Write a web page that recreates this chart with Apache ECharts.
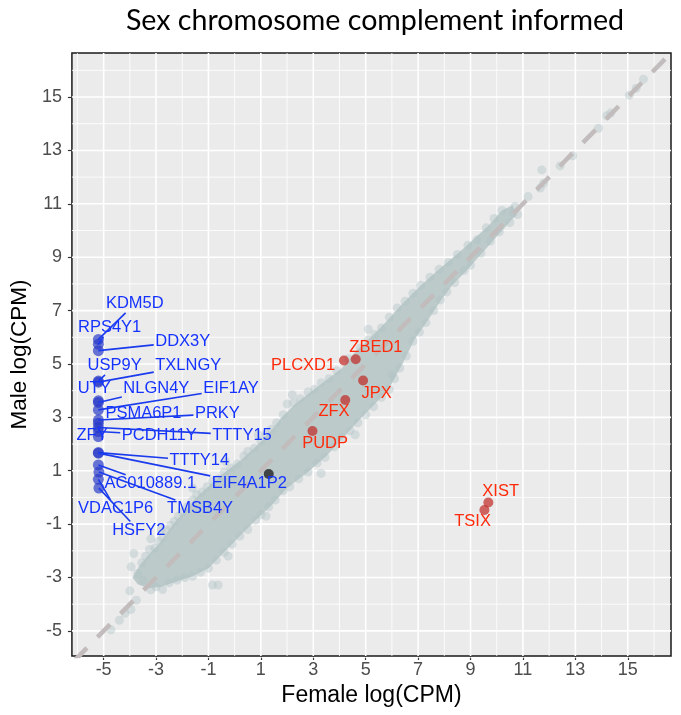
<!DOCTYPE html>
<html>
<head>
<meta charset="utf-8">
<script src="https://cdn.jsdelivr.net/npm/echarts@6/dist/echarts.min.js"></script>
<style>
  html, body { margin: 0; padding: 0; background: #fff; }
  #chart { width: 681px; height: 715px; }
</style>
</head>
<body>
<div id="chart"></div>
<script>
// axis domain and breaks
const xRange = [-6.21, 16.65];
const yRange = [-5.94, 16.65];
const majorBreaks = [-5, -3, -1, 1, 3, 5, 7, 9, 11, 13, 15];
const minorBreaks = [-6, -4, -2, 0, 2, 4, 6, 8, 10, 12, 14, 16];

// outline of the dense body of the gene cloud (female, male)
const cloudUpper = [
  [-3.9, -3.0], [-3.6, -2.5], [-3.2, -2.05], [-2.9, -1.75], [-2.6, -1.35], [-2.3, -0.95],
  [-1.9, -0.5], [-1.4, 0.05], [-0.9, 0.5], [-0.3, 1.0], [0.3, 1.45], [0.8, 1.9], [1.3, 2.4],
  [1.8, 3.0], [2.3, 3.5], [2.9, 3.95], [3.5, 4.4], [4.1, 4.85], [4.6, 5.45], [5.2, 6.0],
  [5.8, 6.6], [6.3, 7.15], [6.9, 7.75], [7.5, 8.3], [8.1, 8.8], [8.7, 9.3], [9.2, 9.75],
  [9.7, 10.2], [10.2, 10.75], [10.6, 10.95]
];
const cloudLower = [
  [10.75, 10.6], [10.3, 10.1], [9.8, 9.55], [9.3, 9.0], [8.8, 8.45], [8.3, 7.95], [7.85, 7.35],
  [7.35, 6.6], [6.85, 5.9], [6.4, 5.0], [5.9, 4.1], [5.4, 3.55], [4.9, 3.05], [4.2, 2.3],
  [3.5, 1.55], [2.8, 0.95], [2.0, 0.35], [1.4, -0.3], [0.8, -0.85], [0.1, -1.55], [-0.5, -2.15],
  [-1.0, -2.65], [-1.6, -2.95], [-2.2, -3.15], [-2.8, -3.35], [-3.3, -3.4], [-3.7, -3.25]
];

// individual genes visible around the cloud edges
const cloudPoints = [
  [-3.85, -2.1], [-3.7, -2.85], [-3.55, -2.45], [-3.4, -2.2], [-3.25, -1.95], [-3.05, -1.9],
  [-2.9, -1.65], [-2.75, -1.5], [-2.6, -1.25], [-2.45, -1.05], [-2.3, -0.9], [-2.15, -0.7],
  [-2.0, -0.55], [-1.8, -0.35], [-1.6, -0.1], [-1.45, 0.1], [-1.25, 0.2], [-1.05, 0.4],
  [-0.85, 0.6], [-0.6, 0.7], [-0.4, 0.95], [-0.15, 1.1], [0.1, 1.25], [0.35, 1.55],
  [0.5, 1.72], [0.75, 1.85], [1.0, 2.1], [1.2, 2.35], [1.4, 2.55], [1.6, 2.8], [1.85, 3.1],
  [2.0, 3.5], [2.25, 3.55], [2.5, 3.7], [2.8, 3.95], [3.05, 4.05], [3.3, 4.3], [3.6, 4.45],
  [3.9, 4.75], [4.35, 5.2], [4.8, 5.6], [5.1, 5.9], [5.35, 6.1], [5.6, 6.35], [5.9, 6.75],
  [6.2, 7.1], [6.5, 7.35], [6.8, 7.65], [7.1, 7.95], [7.45, 8.25], [7.8, 8.55], [8.15, 8.8],
  [8.5, 9.1], [8.9, 9.45], [9.25, 9.65], [9.6, 10.1], [9.9, 10.45], [10.2, 10.75],
  [10.8, 10.6], [10.62, 10.65], [10.5, 10.3], [10.1, 9.95], [9.75, 9.6], [9.4, 9.15],
  [9.0, 8.7], [8.75, 8.5], [8.4, 8.05], [8.1, 7.7], [7.85, 7.4], [7.6, 7.0], [7.3, 6.55],
  [7.05, 6.2], [6.8, 5.85], [6.55, 5.3], [6.3, 4.85], [6.1, 4.45], [5.9, 4.05], [5.6, 3.75],
  [5.3, 3.4], [5.0, 3.1], [4.7, 2.8], [4.4, 2.5], [4.1, 2.25], [3.8, 1.9], [3.45, 1.5],
  [3.15, 1.3], [2.8, 0.95], [2.45, 0.7], [2.1, 0.4], [1.85, 0.25], [1.55, -0.1], [1.3, -0.35],
  [1.0, -0.65], [0.8, -0.85], [0.5, -1.2], [0.2, -1.45], [-0.1, -1.75], [-0.4, -2.05],
  [-0.7, -2.35], [-1.0, -2.65], [-1.3, -2.8], [-1.6, -2.95], [-1.9, -3.0], [-2.2, -3.1],
  [-2.5, -3.2], [-2.75, -3.45], [-3.0, -3.35], [-3.2, -3.46], [-3.5, -3.1],
  [-0.85, -3.28], [-0.63, -3.28], [-4.72, -4.96], [-4.4, -4.6], [-4.18, -4.34], [-3.96, -4.2],
  [-3.75, -3.85], [-4.0, -3.5], [-3.95, -2.6], [11.72, 12.27], [12.42, 12.42], [11.79, 11.77],
  [11.66, 11.59], [11.2, 11.27], [10.7, 10.9], [12.9, 12.8], [13.88, 13.83], [14.2, 14.3],
  [14.35, 14.4], [15.06, 15.07], [15.32, 15.33], [15.6, 15.67],
  [-1.6, 0.35], [-0.35, 1.35], [0.9, 2.35], [2.2, 3.85], [-2.8, -1.2], [3.3, 0.9], [1.2, -0.7],
  [-0.25, -2.2], [4.6, 2.35], [6.0, 4.6], [5.1, 6.3], [-3.2, -1.55]
];

// Y-linked genes (blue)
const yGenes = ['KDM5D', 'RPS4Y1', 'DDX3Y', 'USP9Y', 'TXLNGY', 'UTY', 'NLGN4Y', 'EIF1AY',
  'PSMA6P1', 'PRKY', 'ZFY', 'PCDH11Y', 'TTTY15', 'TTTY14', 'AC010889.1', 'EIF4A1P2',
  'VDAC1P6', 'TMSB4Y', 'HSFY2'];
const yFemale = [-5.2, -5.2, -5.2, -5.2, -5.2, -5.2, -5.2, -5.2, -5.2, -5.2, -5.2, -5.2,
  -5.2, -5.2, -5.2, -5.2, -5.2, -5.18, -5.18];
const yMale = [5.92, 5.74, 5.5, 4.36, 4.32, 3.62, 3.56, 3.28, 2.78, 2.9, 2.28, 2.47, 2.62,
  1.68, 1.22, 1.66, 0.68, 0.95, 0.35];
// where the repelled labels sit, in data units
const yLabelAt = [[-3.81, 7.25], [-4.77, 6.36], [-1.98, 5.83], [-4.58, 4.93], [-1.77, 4.93],
  [-5.36, 4.07], [-2.99, 4.07], [-0.14, 4.07], [-3.48, 3.13], [-0.66, 3.13], [-5.44, 2.34],
  [-2.88, 2.34], [0.28, 2.34], [-1.35, 1.37], [-3.22, 0.51], [0.56, 0.51], [-4.54, -0.43],
  [-1.32, -0.43], [-3.66, -1.24]];

// X-linked / escape genes (red)
const xGenes = ['PLCXD1', 'ZBED1', 'JPX', 'ZFX', 'PUDP', 'XIST', 'TSIX'];
const xFemale = [4.17, 4.62, 4.9, 4.22, 2.97, 9.68, 9.53];
const xMale = [5.13, 5.18, 4.38, 3.65, 2.49, -0.19, -0.47];
const xLabelAt = [[2.61, 4.94], [5.39, 5.61], [5.42, 3.88], [3.79, 3.22], [3.45, 2.03],
  [10.15, 0.22], [9.08, -0.9]];

// the single dark gene
const otherGene = [[1.3, 0.88]];

// y = x reference line
const identityLine = [[-7, -7], [17, 17]];

const labelFont = '16.5px "Liberation Sans", Arial, sans-serif';
const measureCtx = document.createElement('canvas').getContext('2d');
function textWidth(s) {
  measureCtx.font = labelFont;
  return measureCtx.measureText(s).width;
}

function gridLines(width) {
  return (params, api) => {
    const v = api.value(0);
    const cs = params.coordSys;
    const x = api.coord([v, yRange[0]])[0];
    const y = api.coord([xRange[0], v])[1];
    const style = { stroke: '#ffffff', lineWidth: width };
    return {
      type: 'group',
      children: [
        { type: 'line', shape: { x1: x, y1: cs.y, x2: x, y2: cs.y + cs.height }, style },
        { type: 'line', shape: { x1: cs.x, y1: y, x2: cs.x + cs.width, y2: y }, style }
      ]
    };
  };
}

function geneLabels(names, labelAt, textColor, segColor) {
  return (params, api) => {
    const i = params.dataIndex;
    const p = api.coord([api.value(0), api.value(1)]);
    const c = api.coord(labelAt[i]);
    const w = textWidth(names[i]);
    const children = [];
    if (segColor) {
      // segment from the point toward the label centre, stopped at the label box
      const dx = p[0] - c[0];
      const dy = p[1] - c[1];
      const hw = w / 2 + 1.5;
      const hh = 9;
      const s = Math.min(dx === 0 ? Infinity : hw / Math.abs(dx), dy === 0 ? Infinity : hh / Math.abs(dy));
      if (s < 1) {
        const ex = c[0] + s * dx;
        const ey = c[1] + s * dy;
        if (Math.hypot(ex - p[0], ey - p[1]) > 7) {
          children.push({
            type: 'line',
            shape: { x1: p[0], y1: p[1], x2: ex, y2: ey },
            style: { stroke: segColor, lineWidth: 1.6 }
          });
        }
      }
    }
    children.push({
      type: 'text',
      style: {
        x: c[0], y: c[1], text: names[i], fill: textColor, font: labelFont,
        align: 'center', verticalAlign: 'middle'
      }
    });
    return { type: 'group', children };
  };
}

const chart = echarts.init(document.getElementById('chart'), null, { renderer: 'canvas' });

const axisCommon = {
  type: 'value',
  nameLocation: 'middle',
  nameTextStyle: { fontSize: 23, color: '#000', fontFamily: 'Liberation Sans' },
  axisLine: { show: false, onZero: false },
  axisTick: {
    show: true, customValues: majorBreaks, length: 4, inside: false,
    lineStyle: { color: '#333', width: 1.2 }
  },
  axisLabel: {
    customValues: majorBreaks, fontSize: 18, color: '#4d4d4d', fontFamily: 'Liberation Sans'
  },
  splitLine: { show: false }
};

const option = {
  animation: false,
  backgroundColor: '#ffffff',
  graphic: [{
    type: 'text',
    x: 375,
    y: 21,
    style: {
      text: 'Sex chromosome complement informed',
      font: '28.6px Lato, "Open Sans", sans-serif',
      fill: '#000',
      align: 'center',
      verticalAlign: 'middle'
    }
  }],
  grid: {
    left: 71, right: 10, top: 53, bottom: 59,
    show: true, backgroundColor: '#EBEBEB', borderColor: '#1a1a1a', borderWidth: 1.5
  },
  xAxis: {
    ...axisCommon,
    min: xRange[0], max: xRange[1],
    name: 'Female log(CPM)', nameGap: 25,
    axisLabel: { ...axisCommon.axisLabel, margin: 5 }
  },
  yAxis: {
    ...axisCommon,
    min: yRange[0], max: yRange[1],
    name: 'Male log(CPM)', nameGap: 32,
    nameTextStyle: { ...axisCommon.nameTextStyle, fontSize: 22.5 },
    axisLabel: { ...axisCommon.axisLabel, margin: 10 }
  },
  series: [
    {
      type: 'custom', name: 'minor grid', silent: true, z: 1,
      data: minorBreaks.map(v => [v, v]),
      renderItem: gridLines(0.8)
    },
    {
      type: 'custom', name: 'major grid', silent: true, z: 1,
      data: majorBreaks.map(v => [v, v]),
      renderItem: gridLines(1.6)
    },
    {
      type: 'custom', name: 'cloud body', silent: true, z: 2,
      data: [[0, 0]],
      renderItem: (params, api) => ({
        type: 'polygon',
        shape: { points: cloudUpper.concat(cloudLower).map(d => api.coord(d)) },
        style: { fill: '#bccaca' }
      })
    },
    {
      type: 'scatter', name: 'genes', silent: true, z: 3,
      data: cloudPoints,
      symbolSize: 9,
      itemStyle: { color: 'rgba(178,196,197,0.55)' }
    },
    {
      type: 'line', name: 'identity', silent: true, z: 4,
      data: identityLine, symbol: 'none', clip: true,
      lineStyle: { color: '#c2bcbc', width: 4.5, type: [18, 15], cap: 'butt' }
    },
    {
      type: 'scatter', name: 'other', silent: true, z: 5,
      data: otherGene, symbolSize: 10,
      itemStyle: { color: '#222222' }
    },
    {
      type: 'scatter', name: 'Y genes', silent: true, z: 6,
      data: yFemale.map((v, i) => [v, yMale[i]]), symbolSize: 11,
      itemStyle: { color: 'rgba(38,55,200,0.85)' }
    },
    {
      type: 'scatter', name: 'X genes', silent: true, z: 6,
      data: xFemale.map((v, i) => [v, xMale[i]]), symbolSize: 10,
      itemStyle: { color: 'rgba(192,45,40,0.9)' }
    },
    {
      type: 'custom', name: 'Y labels', silent: true, z: 7,
      data: yFemale.map((v, i) => [v, yMale[i]]),
      renderItem: geneLabels(yGenes, yLabelAt, '#1533ff', '#1a3aee')
    },
    {
      type: 'custom', name: 'X labels', silent: true, z: 7,
      data: xFemale.map((v, i) => [v, xMale[i]]),
      renderItem: geneLabels(xGenes, xLabelAt, '#ff2a0a', null)
    }
  ]
};

chart.setOption(option);
window.addEventListener('resize', () => chart.resize());
</script>
</body>
</html>
